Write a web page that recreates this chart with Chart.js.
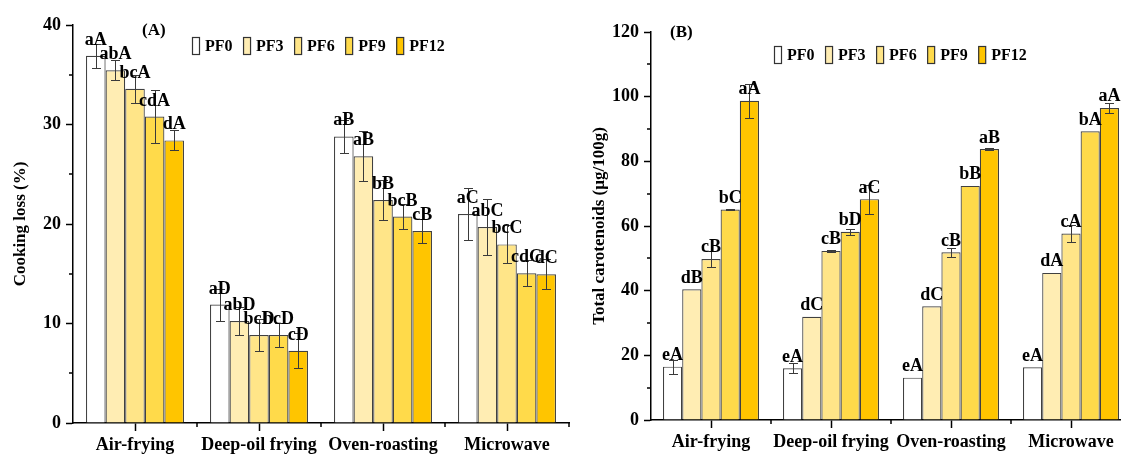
<!DOCTYPE html>
<html>
<head>
<meta charset="utf-8">
<script src="https://cdn.jsdelivr.net/npm/chart.js@4.4.0/dist/chart.umd.min.js"></script>
<style>
    html, body { margin: 0; padding: 0; background: #fff; width: 1121px; height: 454px; overflow: hidden; }
    .panel { position: absolute; top: 0; height: 454px; }
    #panel-a { left: 0; width: 580px; }
    #panel-b { left: 580px; width: 560px; }
</style>
</head>
<body>
<div class="panel" id="panel-a"><canvas id="cooking-loss-chart"></canvas></div>
<div class="panel" id="panel-b"><canvas id="carotenoid-chart"></canvas></div>
<script>
// 分类与系列
const methods = ['Air-frying', 'Deep-oil frying', 'Oven-roasting', 'Microwave'];
const series = ['PF0', 'PF3', 'PF6', 'PF9', 'PF12'];
const seriesColors = ['#ffffff', '#ffedb3', '#ffe588', '#ffda4a', '#ffc500'];

// (A) 蒸煮损失 (%)
const lossPF0 = [36.9, 11.9, 28.8, 21.0];
const lossPF3 = [35.45, 10.25, 26.8, 19.7];
const lossPF6 = [33.6, 8.85, 22.4, 17.95];
const lossPF9 = [30.8, 8.85, 20.75, 15.05];
const lossPF12 = [28.4, 7.25, 19.3, 14.95];
const lossSD = [
    [1.2, 1.6, 1.7, 2.6],
    [1.0, 1.45, 2.5, 2.8],
    [1.4, 1.6, 2.0, 1.9],
    [2.7, 1.2, 1.3, 1.3],
    [1.0, 1.75, 1.2, 1.5]
];
const lossLetters = [
    ['aA', 'aD', 'aB', 'aC'],
    ['abA', 'abD', 'aB', 'abC'],
    ['bcA', 'bcD', 'bB', 'bcC'],
    ['cdA', 'bcD', 'bcB', 'cdC'],
    ['dA', 'cD', 'cB', 'dC']
];
const lossTicks = [0, 10, 20, 30, 40];

// (B) 总类胡萝卜素 (µg/100g)
const carPF0 = [16.5, 16.0, 13.1, 16.3];
const carPF3 = [40.4, 31.9, 35.2, 45.5];
const carPF6 = [49.8, 52.3, 51.9, 57.7];
const carPF9 = [65.1, 58.2, 72.4, 89.3];
const carPF12 = [98.7, 68.3, 83.8, 96.5];
const carSD = [
    [2.2, 1.5, 0, 0],
    [0, 0, 0, 0],
    [2.6, 0.3, 1.4, 2.6],
    [0.3, 1.0, 0, 0],
    [5.3, 4.5, 0.4, 1.5]
];
const carLetters = [
    ['eA', 'eA', 'eA', 'eA'],
    ['dB', 'dC', 'dC', 'dA'],
    ['cB', 'cB', 'cB', 'cA'],
    ['bC', 'bD', 'bB', 'bA'],
    ['aA', 'aC', 'aB', 'aA']
];
const carTicks = [0, 20, 40, 60, 80, 100, 120];

const SERIF = '"Liberation Serif", "Times New Roman", serif';

/**
 * 误差棒、显著性字母、图例、面板编号和次刻度
 */
const annotatePlugin = {
    id: 'annotate',
    afterDatasetsDraw(chart, args, opts) {
        const ctx = chart.ctx;
        const y = chart.scales.y;
        ctx.save();
        chart.data.datasets.forEach((ds, di) => {
            const meta = chart.getDatasetMeta(di);
            meta.data.forEach((bar, i) => {
                const v = ds.data[i];
                const sd = opts.errors[di][i];
                const x = Math.round(bar.x) + 0.5;
                if (sd > 0) {
                    const top = Math.round(y.getPixelForValue(v + sd)) + 0.5;
                    const bot = Math.round(y.getPixelForValue(v - sd)) + 0.5;
                    ctx.strokeStyle = '#3a3a3a';
                    ctx.lineWidth = 1;
                    ctx.beginPath();
                    ctx.moveTo(x, top); ctx.lineTo(x, bot);
                    ctx.moveTo(x - 4.5, top); ctx.lineTo(x + 4.5, top);
                    ctx.moveTo(x - 4.5, bot); ctx.lineTo(x + 4.5, bot);
                    ctx.stroke();
                }
                ctx.fillStyle = '#000';
                ctx.font = 'bold 18px ' + SERIF;
                ctx.textAlign = 'center';
                ctx.textBaseline = 'alphabetic';
                ctx.fillText(opts.letters[di][i], bar.x, bar.y - opts.lift);
            });
        });
        ctx.restore();
    },
    afterDraw(chart, args, opts) {
        const ctx = chart.ctx;
        const area = chart.chartArea;
        const x = chart.scales.x;
        const y = chart.scales.y;
        ctx.save();
        ctx.strokeStyle = '#000';
        ctx.lineWidth = 1.5;

        // y 轴次刻度
        ctx.beginPath();
        for (let v = y.min; v <= y.max; v += opts.minorStep) {
            if (v % opts.majorStep === 0) continue;
            const py = Math.round(y.getPixelForValue(v));
            ctx.moveTo(area.left, py);
            ctx.lineTo(area.left - 4, py);
        }
        // x 轴分组边界刻度
        const n = chart.data.labels.length;
        for (let i = 0; i < n; i++) {
            const c = x.getPixelForValue(i);
            const next = i < n - 1 ? x.getPixelForValue(i + 1) : c + (c - x.getPixelForValue(i - 1));
            const px = Math.round((c + next) / 2);
            ctx.moveTo(px, area.bottom);
            ctx.lineTo(px, area.bottom + 4);
        }
        ctx.stroke();

        // 面板编号
        ctx.fillStyle = '#000';
        ctx.font = 'bold 17px ' + SERIF;
        ctx.textAlign = 'left';
        ctx.textBaseline = 'alphabetic';
        ctx.fillText(opts.panel, opts.panelX, opts.panelY);

        // 图例
        ctx.font = 'bold 16px ' + SERIF;
        ctx.textBaseline = 'middle';
        let lx = opts.legendX;
        const ly = opts.legendY;
        chart.data.datasets.forEach(ds => {
            ctx.fillStyle = ds.backgroundColor;
            ctx.fillRect(lx, ly - 8.5, 7, 17);
            ctx.strokeStyle = '#333';
            ctx.lineWidth = 1.2;
            ctx.strokeRect(lx + 0.5, ly - 8.5, 7, 17);
            ctx.fillStyle = '#000';
            ctx.fillText(ds.label, lx + 13, ly + 1);
            lx += 13 + ctx.measureText(ds.label).width + 10.5;
        });
        ctx.restore();
    }
};

function makeDatasets(valueArrays) {
    return series.map((name, i) => ({
        label: name,
        data: valueArrays[i],
        backgroundColor: seriesColors[i],
        borderColor: '#404040',
        borderWidth: 1.2,
        barPercentage: 1.0
    }));
}

function axisOptions(ticksList, minorStep, titleText, yWidth, xHeight, titlePad) {
    const majorStep = ticksList[1] - ticksList[0];
    return {
        x: {
            afterFit: s => { s.height = xHeight; },
            border: { color: '#000', width: 1.5 },
            grid: { drawOnChartArea: false, offset: false, tickLength: 8, tickWidth: 1.5, tickColor: '#000' },
            ticks: {
                color: '#000',
                padding: 4,
                maxRotation: 0,
                minRotation: 0,
                autoSkip: false,
                font: { family: SERIF, size: 18, weight: 'bold' }
            }
        },
        y: {
            min: ticksList[0],
            max: ticksList[ticksList.length - 1],
            afterFit: s => { s.width = yWidth; },
            border: { color: '#000', width: 1.5 },
            grid: {
                drawOnChartArea: false,
                tickLength: 7,
                tickWidth: 1.5,
                tickColor: c => (c.tick && c.tick.value % majorStep === 0) ? '#000' : 'rgba(0,0,0,0)'
            },
            ticks: {
                stepSize: minorStep,
                color: '#000',
                padding: 5,
                font: { family: SERIF, size: 18, weight: 'bold' },
                callback: v => ticksList.includes(v) ? String(v) : ''
            },
            title: {
                display: true,
                text: titleText,
                color: '#000',
                padding: { top: titlePad, bottom: 0 },
                font: { family: SERIF, size: 17, weight: 'bold' }
            }
        }
    };
}

/**
 * (A) 蒸煮损失柱状图
 */
function initCookingLossChart() {
    const ctx = document.getElementById('cooking-loss-chart');
    new Chart(ctx, {
        type: 'bar',
        data: {
            labels: methods,
            datasets: makeDatasets([lossPF0, lossPF3, lossPF6, lossPF9, lossPF12])
        },
        options: {
            responsive: true,
            maintainAspectRatio: false,
            animation: false,
            categoryPercentage: 0.79,
            layout: { padding: { left: 0, top: 25, right: 11, bottom: 0 } },
            plugins: {
                legend: { display: false },
                tooltip: { enabled: false },
                annotate: {
                    errors: lossSD,
                    letters: lossLetters,
                    lift: 11,
                    minorStep: 5,
                    majorStep: 10,
                    panel: '(A)',
                    panelX: 142,
                    panelY: 35,
                    legendX: 192,
                    legendY: 46
                }
            },
            scales: axisOptions(lossTicks, 5, 'Cooking loss (%)', 73, 31, 10)
        },
        plugins: [annotatePlugin]
    });
}

/**
 * (B) 总类胡萝卜素柱状图
 */
function initCarotenoidChart() {
    const ctx = document.getElementById('carotenoid-chart');
    new Chart(ctx, {
        type: 'bar',
        data: {
            labels: methods,
            datasets: makeDatasets([carPF0, carPF3, carPF6, carPF9, carPF12])
        },
        options: {
            responsive: true,
            maintainAspectRatio: false,
            animation: false,
            categoryPercentage: 0.8,
            layout: { padding: { left: 0, top: 32, right: 9, bottom: 0 } },
            plugins: {
                legend: { display: false },
                tooltip: { enabled: false },
                annotate: {
                    errors: carSD,
                    letters: carLetters,
                    lift: 6.5,
                    minorStep: 10,
                    majorStep: 20,
                    panel: '(B)',
                    panelX: 90,
                    panelY: 37,
                    legendX: 194,
                    legendY: 55
                }
            },
            scales: axisOptions(carTicks, 10, 'Total carotenoids (µg/100g)', 71, 34, 9)
        },
        plugins: [annotatePlugin]
    });
}

initCookingLossChart();
initCarotenoidChart();
</script>
</body>
</html>
